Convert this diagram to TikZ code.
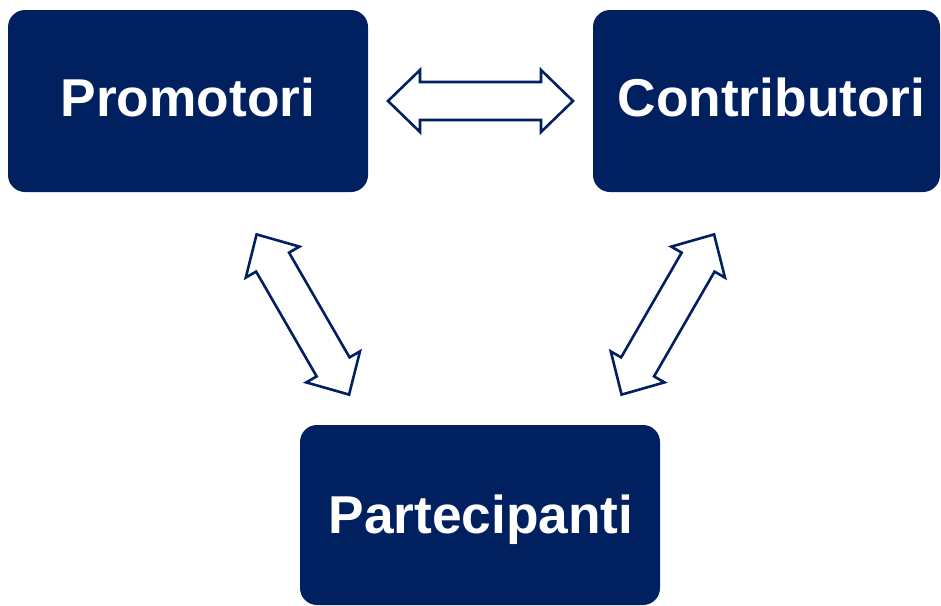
\documentclass[tikz,border=0pt]{standalone}
\usepackage{fontspec}
\setmainfont{Liberation Sans}
\usetikzlibrary{calc}
\definecolor{navy}{RGB}{0,32,96}
\tikzset{
  box/.style={fill=navy, rounded corners=17pt, inner sep=0pt},
  lbl/.style={text=white, font=\fontsize{53.3}{60}\selectfont\bfseries, anchor=base, inner sep=0pt},
  blockarrow/.pic={\draw[navy, line width=2.6pt, line join=miter, fill=white]
    (-92.5,0) -- (-60.5,-31) -- (-60.5,-19) -- (60.5,-19) -- (60.5,-31) -- (92.5,0)
    -- (60.5,31) -- (60.5,19) -- (-60.5,19) -- (-60.5,31) -- cycle;}
}
\begin{document}
\begin{tikzpicture}[x=1pt,y=-1pt]
\useasboundingbox (0,0) rectangle (941,605);
\node[box, minimum width=360pt, minimum height=182pt] (prom) at (188,101) {};
\node[box, minimum width=347pt, minimum height=182pt] (cont) at (766.5,101) {};
\node[box, minimum width=360pt, minimum height=180pt] (part) at (480,515) {};
\node[lbl] (tprom) at (188,116.7) {Promotori};
\node[lbl] (tcont) at (771.5,116.7) {Contributori};
\node[lbl] (tpart) at (481,533.3) {Partecipanti};
\coordinate (pc) at ($(prom.east)!0.5!(cont.west)$);
\coordinate (pp) at (302.85,314.5);
\coordinate (cp) at (667.85,314.5);
\pic at (pc) {blockarrow};
\pic[rotate=120] at (pp) {blockarrow};
\pic[rotate=60] at (cp) {blockarrow};
\end{tikzpicture}
\end{document}
